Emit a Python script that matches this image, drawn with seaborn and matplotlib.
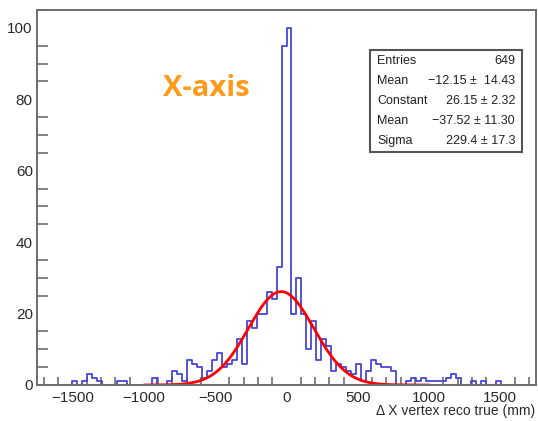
import numpy as np
import pandas as pd
import matplotlib
matplotlib.use("Agg")
import matplotlib.pyplot as plt
import seaborn as sns
from matplotlib.ticker import MultipleLocator
from matplotlib.patches import Rectangle

# ---- data ----
x_min, x_max, n_bins = -1750, 1750, 100
nonzero_bins = {
    7: 1, 9: 1, 10: 3, 11: 2, 12: 1, 16: 1, 17: 1,
    23: 2, 26: 1, 27: 4, 28: 3, 29: 1,
    30: 7, 31: 6, 32: 5, 33: 2, 34: 4, 35: 7, 36: 9, 37: 5, 38: 6, 39: 7,
    40: 13, 41: 6, 42: 18, 43: 16, 44: 20, 45: 20, 46: 26, 47: 24, 48: 33,
    49: 95, 50: 100, 51: 20, 52: 30, 53: 20, 54: 10, 55: 18, 56: 7, 57: 13,
    58: 11, 59: 4, 60: 6, 61: 5, 62: 4, 63: 3, 64: 6, 65: 1, 66: 4, 67: 7,
    68: 6, 69: 5, 70: 5, 71: 4, 74: 1, 75: 2, 76: 1, 77: 2, 78: 1, 79: 1,
    80: 1, 81: 1, 82: 2, 83: 3, 84: 2, 87: 1, 89: 1, 92: 1,
}
fit_constant, fit_mean, fit_sigma = 26.15, -37.52, 229.4
fit_range = (-1000, 1000)
stats_labels = ["Entries", "Mean", "Constant", "Mean", "Sigma"]
stats_values = ["649", "\u221212.15 \u00b1  14.43", "26.15 \u00b1 2.32",
                "\u221237.52 \u00b1 11.30", "229.4 \u00b1 17.3"]
xlabel = "\u0394 X vertex reco true (mm)"
title_text = "X-axis"

bin_w = (x_max - x_min) / n_bins
centers = x_min + bin_w * (np.arange(n_bins) + 0.5)
counts = np.zeros(n_bins)
for k, v in nonzero_bins.items():
    counts[k] = v
df = pd.DataFrame({"x": centers, "w": counts})

fx = np.linspace(fit_range[0], fit_range[1], 400)
fy = fit_constant * np.exp(-0.5 * ((fx - fit_mean) / fit_sigma) ** 2)
fit_df = pd.DataFrame({"x": fx, "y": fy})

# ---- figure ----
W, H = 538, 421
sns.set_style("white")
plt.rcParams["font.family"] = ["Liberation Sans", "DejaVu Sans"]
fig = plt.figure(figsize=(W / 100, H / 100), dpi=100)
fig.patch.set_facecolor("white")

def px(x, y):
    return x / W, 1 - y / H

ax_l, ax_r, ax_t, ax_b = 37, 536, 10, 385
ax = fig.add_axes([ax_l / W, 1 - ax_b / H, (ax_r - ax_l) / W, (ax_b - ax_t) / H])

sns.histplot(data=df, x="x", weights="w", binwidth=bin_w,
             binrange=(x_min, x_max), element="step",
             fill=False, color="#4646d2", linewidth=1.3, ax=ax)
sns.lineplot(data=fit_df, x="x", y="y", color="#ff0000", linewidth=2.0, ax=ax)

ax.set_xlim(x_min, x_max)
ax.set_ylim(0, 105)
ax.set_xlabel("")
ax.set_ylabel("")
ax.xaxis.set_major_locator(MultipleLocator(500))
ax.xaxis.set_minor_locator(MultipleLocator(100))
ax.yaxis.set_major_locator(MultipleLocator(20))
ax.yaxis.set_minor_locator(MultipleLocator(5))
spine_c = "#6e6e6e"
for s in ax.spines.values():
    s.set_color(spine_c)
    s.set_linewidth(1.4)
ax.tick_params(axis="x", which="major", direction="in", length=11, width=1.2,
               color=spine_c, labelsize=11, labelcolor="#2a2a2a", pad=4,
               top=False)
ax.tick_params(axis="x", which="minor", direction="in", length=6, width=1.2,
               color=spine_c, bottom=True, top=False)
ax.tick_params(axis="y", which="major", direction="in", length=15, width=1.2,
               color=spine_c, labelsize=11, labelcolor="#2a2a2a", pad=3,
               right=False)
ax.tick_params(axis="y", which="minor", direction="in", length=8, width=1.2,
               color=spine_c, left=True, right=False)

# x label
fig.text(*px(535, 411), xlabel, ha="right", va="center", fontsize=10,
         color="#2a2a2a")

# title-like annotation
fig.text(*px(206, 89), title_text, ha="center", va="center", fontsize=21,
         fontweight="bold", color="#ff9a1a", family=["Open Sans", "DejaVu Sans"])

# stats box
bx0, by0, bx1, by1 = 370, 50, 522, 152
rect = Rectangle(px(bx0, by1), (bx1 - bx0) / W, (by1 - by0) / H,
                 transform=fig.transFigure, facecolor="white",
                 edgecolor="#555555", linewidth=1.5, zorder=5)
fig.add_artist(rect)
row_y = [61, 81, 101, 121, 141]
for lab, val, yy in zip(stats_labels, stats_values, row_y):
    fig.text(*px(377, yy), lab, ha="left", va="center", fontsize=9,
             color="#222222", zorder=6)
    fig.text(*px(515, yy), val, ha="right", va="center", fontsize=9,
             color="#222222", zorder=6)

fig.savefig("out.png", dpi=100)
